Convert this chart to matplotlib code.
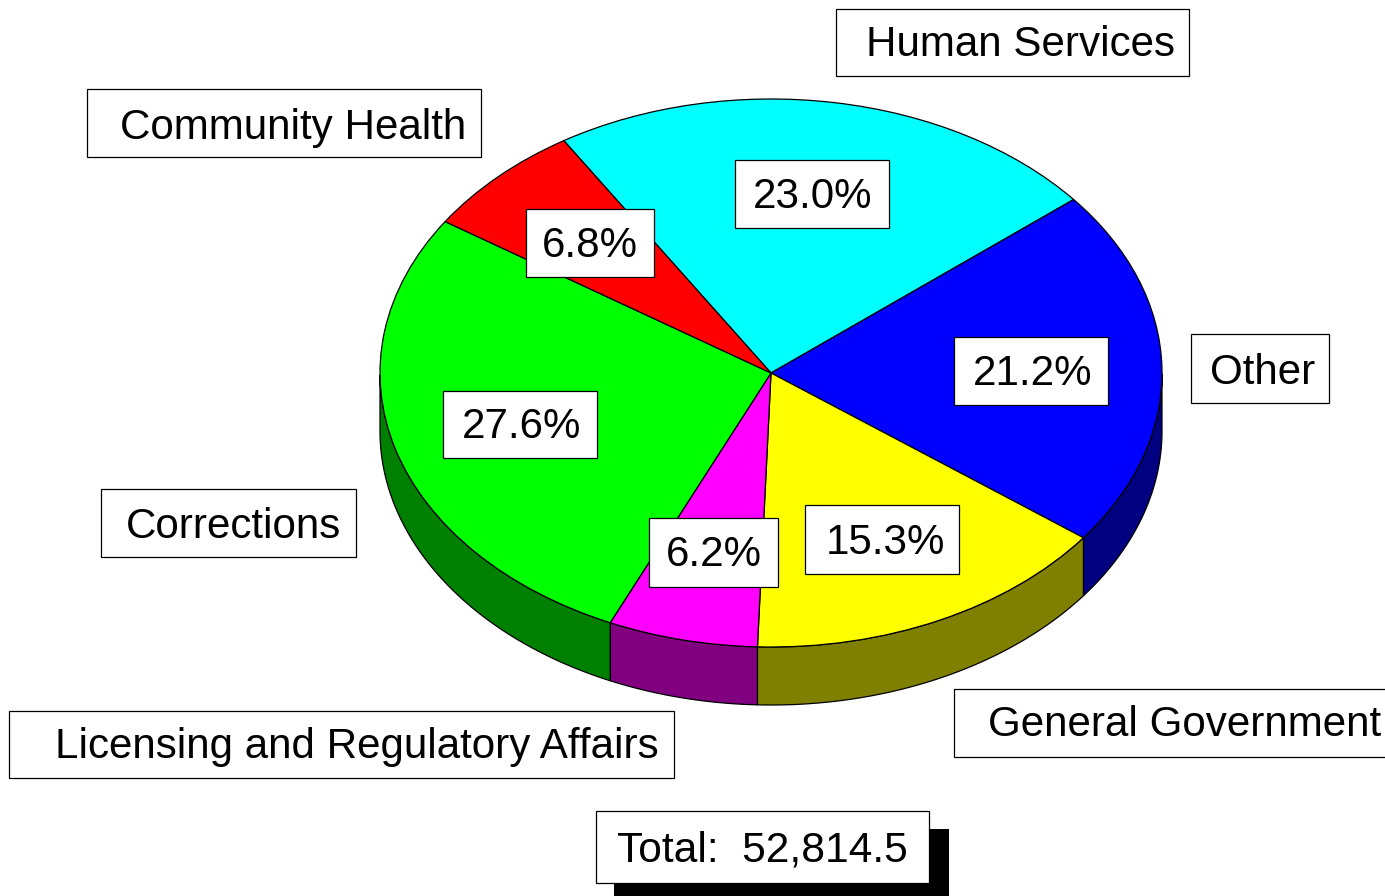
"""
Pie chart with a tilted 3D look, labels in boxes and a total box.
"""

import matplotlib
matplotlib.use('Agg')
import matplotlib.pyplot as plt
import numpy as np
from matplotlib.patches import Rectangle
from matplotlib.transforms import Affine2D

plt.rcParams['font.family'] = ['Liberation Sans', 'DejaVu Sans']

categories = ['Human Services', 'Other', 'General Government',
              'Licensing and Regulatory Affairs', 'Corrections',
              'Community Health']
shares = [23.0, 21.2, 15.3, 6.2, 27.6, 6.8]
total_label = 'Total:  52,814.5'

top_colors = ['#00ffff', '#0000ff', '#ffff00', '#ff00ff', '#00ff00', '#ff0000']
side_colors = ['#008080', '#000080', '#808000', '#800080', '#008000', '#800000']

# layout in reference pixels
CX, CY = 771, 373
RX, RY = 391, 274
DEPTH = 58
START = 90 + 32.0  # first slice edge, degrees counter clockwise from east
FONT = 30.3
LW = 0.9

# x0, y0, x1, y1, text x, text y
name_boxes = [(836, 9, 1189, 76, 866, 41), (1191, 334, 1329, 403, 1210, 369),
              (954, 689, 1400, 757, 988, 720), (9, 711, 674, 778, 55, 742.5),
              (101, 489, 356, 557, 126, 522.5), (87, 89, 481, 157, 120, 123)]
# x0, y0, x1, y1, text centre x
pct_boxes = [(735, 160, 889, 228, 813), (954, 337, 1108, 405, 1033),
             (805, 505, 959, 574, 885), (649, 518, 778, 587, 714),
             (443, 391, 597, 458, 522), (526, 209, 654, 277, 590)]


def draw_box(ax, x0, y0, x1, y1, zorder=5):
    ax.add_patch(Rectangle((x0, y0), x1 - x0, y1 - y0, facecolor='white',
                           edgecolor='black', linewidth=LW, zorder=zorder))


def draw_walls(ax, edges):
    # only the part of each slice on the near half of the rim has a wall
    for i, color in enumerate(side_colors):
        a0, a1 = sorted((edges[i], edges[i + 1]))
        t = np.radians(np.linspace(a0, a1, 200))
        t = t[np.sin(t) < 0]
        if len(t) < 2:
            continue
        x = CX + RX * np.cos(t)
        y = CY - RY * np.sin(t)
        px = np.concatenate([x, x[::-1]])
        py = np.concatenate([y, y[::-1] + DEPTH])
        ax.fill(px, py, facecolor=color, edgecolor='black', linewidth=LW,
                zorder=1)


def main():
    fig = plt.figure(figsize=(13.85, 8.96), dpi=100)
    ax = fig.add_axes([0, 0, 1, 1])

    edges = START - 360 * np.cumsum([0] + shares) / sum(shares)
    draw_walls(ax, edges)

    wedges, _ = ax.pie(shares, colors=top_colors, startangle=START,
                       counterclock=False, radius=1,
                       wedgeprops={'edgecolor': 'black', 'linewidth': LW})
    squash = Affine2D().scale(RX, -RY).translate(CX, CY) + ax.transData
    for w in wedges:
        w.set_transform(squash)
        w.set_zorder(2)

    ax.set_aspect('auto')
    ax.set_xlim(0, 1385)
    ax.set_ylim(896, 0)
    ax.axis('off')

    for name, (x0, y0, x1, y1, tx, ty) in zip(categories, name_boxes):
        draw_box(ax, x0, y0, x1, y1)
        ax.text(tx, ty, name, fontsize=FONT, ha='left',
                va='center_baseline', zorder=6)

    for val, (x0, y0, x1, y1, tx) in zip(shares, pct_boxes):
        draw_box(ax, x0, y0, x1, y1)
        ax.text(tx, (y0 + y1) / 2 - 1.5, f'{val:.1f}%',
                fontsize=FONT, ha='center', va='center_baseline', zorder=6)

    ax.add_patch(Rectangle((614, 829), 335, 70, facecolor='black', zorder=4))
    draw_box(ax, 596, 811, 929, 883)
    ax.text(617, 846, total_label, fontsize=30.6, ha='left',
            va='center_baseline', zorder=6)

    fig.savefig('out.png', dpi=100, facecolor='white')


if __name__ == "__main__":
    main()
